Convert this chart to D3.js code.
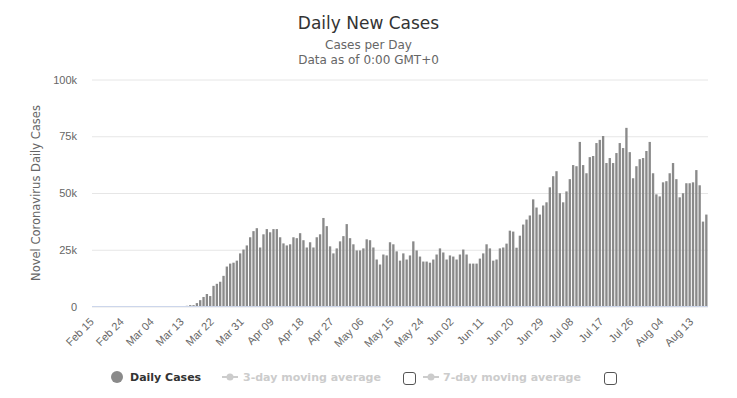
<!DOCTYPE html>
<html>
<head>
<meta charset="utf-8">
<script src="https://cdn.jsdelivr.net/npm/d3@7/dist/d3.min.js"></script>
<style>
body { margin: 0; background: #fff; }
svg { font-family: "DejaVu Sans", sans-serif; }
</style>
</head>
<body>
<svg id="chart" width="737" height="398"></svg>
<script>
// data
var startDate = "2020-02-15";

var dailyCases = [
  0, 0, 0, 0, 0, 0, 0, 0, 0, 0, 0, 0, 0, 0, 0,
  0, 10, 10, 10, 20, 20, 30, 30, 40, 50, 60, 150, 200, 300,
  600, 600, 1500, 2800, 4200, 5500, 4600, 9100, 10000, 10900,
  13500, 17600, 18900, 19300, 20200, 23400, 25100, 26900, 30500, 33200,
  34500, 26000, 31800, 34100, 32700, 34100, 34100, 30500, 27800, 26900,
  27400, 30500, 30100, 32300, 29200, 26000, 28300, 26000, 30500, 31800,
  39000, 35400, 26500, 23400, 25600, 28700, 31000, 36300, 30100, 27400,
  24700, 24700, 25600, 29600, 29200, 26000, 20700, 18500, 22900, 22500,
  28300, 27400, 24300, 20200, 23400, 20700, 22500, 28700, 24700, 22000,
  19800, 19800, 19300, 20700, 22900, 25600, 23800, 20700, 22500, 22000,
  20700, 22900, 25100, 22900, 18900, 18900, 18900, 21100, 23400, 27400,
  25600, 20200, 20700, 25600, 26000, 27700, 33400, 33000, 25900, 31200,
  36100, 38300, 40100, 47200, 43600, 40500, 44500, 45900, 52500, 57400,
  59600, 49900, 45900, 50700, 56100, 62300, 61800, 72500, 62300, 58700,
  65800, 66300, 72000, 73400, 75100, 63200, 65400, 63200, 67600, 72000,
  69800, 78700, 68000, 56500, 61800, 64900, 65400, 68500, 72500, 58700,
  49400, 48500, 54700, 55200, 58700, 63200, 56100, 48100, 49900, 54300,
  54300, 54700, 60100, 53400, 37400, 40500
];

var tickLabels = ["Feb 15", "Feb 24", "Mar 04", "Mar 13", "Mar 22", "Mar 31", "Apr 09",
  "Apr 18", "Apr 27", "May 06", "May 15", "May 24", "Jun 02", "Jun 11", "Jun 20",
  "Jun 29", "Jul 08", "Jul 17", "Jul 26", "Aug 04", "Aug 13"];

var yTicks = [0, 25000, 50000, 75000, 100000];
var yTickLabels = ["0", "25k", "50k", "75k", "100k"];

var legendNames = ["Daily Cases", "3-day moving average", "7-day moving average"];

var fmt = d3.timeFormat("%b %d");
var start = d3.timeParse("%Y-%m-%d")(startDate);
var categories = d3.timeDay.range(start, d3.timeDay.offset(start, dailyCases.length)).map(fmt);

var svg = d3.select("#chart");
var barColor = "#8a8a8a";

var x = d3.scaleBand()
    .domain(categories)
    .range([92, 708])
    .paddingInner(0.3)
    .paddingOuter(0.15);

var y = d3.scaleLinear()
    .domain([0, 100000])
    .range([306.5, 79.5]);

// titles
svg.append("text")
    .attr("x", 368.5).attr("y", 29)
    .attr("text-anchor", "middle")
    .style("font-size", "17px").style("fill", "#333")
    .text("Daily New Cases");
svg.append("text")
    .attr("x", 368.5).attr("y", 49)
    .attr("text-anchor", "middle")
    .style("font-size", "12px").style("fill", "#666")
    .text("Cases per Day");
svg.append("text")
    .attr("x", 368.5).attr("y", 64)
    .attr("text-anchor", "middle")
    .style("font-size", "12px").style("fill", "#666")
    .text("Data as of 0:00 GMT+0");

// y axis + grid
var yAxis = svg.append("g")
    .attr("transform", "translate(92,0)")
    .call(d3.axisLeft(y).tickValues(yTicks).tickSize(-616)
        .tickFormat(function(d, i) { return yTickLabels[i]; }));
yAxis.select(".domain").remove();
yAxis.selectAll(".tick line").attr("stroke", "#e6e6e6");
yAxis.selectAll(".tick text")
    .attr("x", -15)
    .style("font-size", "11px").style("fill", "#666");

svg.append("text")
    .attr("transform", "translate(40,193) rotate(-90)")
    .attr("text-anchor", "middle")
    .style("font-size", "11.5px").style("fill", "#666")
    .text("Novel Coronavirus Daily Cases");

// bars
svg.append("g").selectAll("rect")
    .data(dailyCases)
    .enter().append("rect")
    .attr("x", function(d, i) { return x(categories[i]); })
    .attr("width", x.bandwidth())
    .attr("y", function(d) { return y(d); })
    .attr("height", function(d) { return y(0) - y(d); })
    .style("fill", barColor);

// x axis
var xAxis = svg.append("g")
    .attr("transform", "translate(0,306.5)")
    .call(d3.axisBottom(x).tickValues(tickLabels).tickSize(0));
xAxis.select(".domain").attr("stroke", "#ccd6eb").attr("d", "M92,0H708");
xAxis.selectAll(".tick text")
    .attr("y", 0).attr("dy", 0)
    .attr("text-anchor", "end")
    .attr("transform", "translate(1,16) rotate(-45)")
    .style("font-size", "11px").style("fill", "#666");

// legend
var lg = svg.append("g").style("font-size", "11px").style("font-weight", "bold");
lg.append("circle").attr("cx", 117).attr("cy", 377).attr("r", 6).style("fill", barColor);
lg.append("text").attr("x", 130).attr("y", 381).style("fill", "#333").text(legendNames[0]);

[[222, 243, 403.5], [423, 443, 604.5]].forEach(function(p, k) {
  lg.append("line").attr("x1", p[0]).attr("x2", p[0] + 16).attr("y1", 377).attr("y2", 377)
      .attr("stroke", "#ccc").attr("stroke-width", 2);
  lg.append("circle").attr("cx", p[0] + 8).attr("cy", 377).attr("r", 3.5).style("fill", "#ccc");
  lg.append("text").attr("x", p[1]).attr("y", 381).style("fill", "#ccc").text(legendNames[k + 1]);
  lg.append("rect").attr("x", p[2]).attr("y", 372.5).attr("width", 12).attr("height", 12)
      .attr("rx", 2.5).style("fill", "#fff").style("stroke", "#555");
});
</script>
</body>
</html>
